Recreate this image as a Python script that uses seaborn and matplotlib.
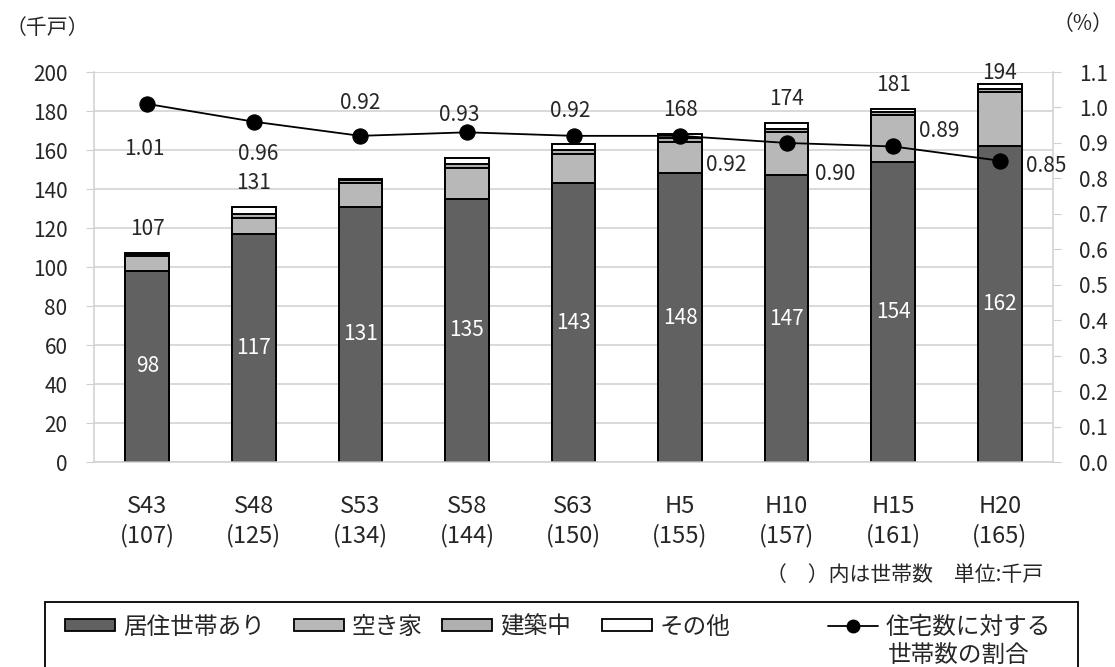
import numpy as np
import matplotlib
matplotlib.use('Agg')
import matplotlib.pyplot as plt
import seaborn as sns
from matplotlib.patches import Patch, Rectangle
from matplotlib.lines import Line2D

# ------------------------------------------------------------
# data (千戸)
# ------------------------------------------------------------
years = ['S43', 'S48', 'S53', 'S58', 'S63', 'H5', 'H10', 'H15', 'H20']
households = [107, 125, 134, 144, 150, 155, 157, 161, 165]
occupied = [98, 117, 131, 135, 143, 148, 147, 154, 162]
vacant = [7.5, 8, 12, 16, 15, 16, 22, 24, 28]
building = [1, 2, 1.5, 2, 2, 2, 2, 1.5, 1.5]
other = [0.5, 4, 0.5, 3, 3, 2, 3, 1.5, 2.5]
ratio = [1.01, 0.96, 0.92, 0.93, 0.92, 0.92, 0.90, 0.89, 0.85]
show_total = [True, True, False, False, False, True, True, True, True]

tick_labels = [f'{y}\n({h})' for y, h in zip(years, households)]

c_occ = '#616161'
c_vac = '#b8b8b8'
c_bld = '#b0b0b0'
c_oth = '#ffffff'
grid_c = '#d0d0d0'

sns.set_style('white')
plt.rcParams['font.family'] = ['Noto Sans CJK JP', 'DejaVu Sans']

fig = plt.figure(figsize=(11.15, 6.67), dpi=100)
ax = fig.add_axes([0.0843, 0.3073, 0.8601, 0.5847])

# stacked bars drawn as overlapping cumulative bars
l1 = np.array(occupied)
l2 = l1 + np.array(vacant)
l3 = l2 + np.array(building)
l4 = l3 + np.array(other)
for vals, col in [(l4, c_oth), (l3, c_bld), (l2, c_vac), (l1, c_occ)]:
    sns.barplot(x=tick_labels, y=vals, color=col, saturation=1, width=0.41,
                edgecolor='black', linewidth=1.4, ax=ax)

ax.set_ylim(0, 200)
ax.set_yticks(np.arange(0, 201, 20))
ax.set_xlim(-0.5, len(years) - 0.5)
ax.set_axisbelow(True)
ax.yaxis.grid(True, color=grid_c, linewidth=1.1)
ax.set_xlabel('')
ax.set_ylabel('')
for s in ['top', 'right']:
    ax.spines[s].set_visible(False)
for s in ['left', 'bottom']:
    ax.spines[s].set_color(grid_c)
    ax.spines[s].set_linewidth(1.1)
ax.tick_params(axis='y', labelsize=15, length=6, color=grid_c, pad=13)
ax.tick_params(axis='x', which='major', labelsize=17, length=0, pad=24)
ax.set_xticks(np.arange(-0.5, len(years)), minor=True)
ax.tick_params(axis='x', which='minor', length=6, color=grid_c, width=1.1)
for t in ax.get_xticklabels():
    t.set_linespacing(1.3)

# labels on bars
for i in range(len(years)):
    ax.text(i, occupied[i] / 2, f'{occupied[i]}', ha='center', va='center',
            color='white', fontsize=15)
    if show_total[i]:
        dy = 11 if i == len(years) - 1 else 24
        ax.annotate(f'{round(l4[i])}', (i, l4[i]), xytext=(0, dy),
                    textcoords='offset pixels', ha='center', va='center',
                    fontsize=15)

# ratio line
ax2 = ax.twinx()
sns.lineplot(x=np.arange(len(years)), y=ratio, color='black', linewidth=1.3,
             marker='o', markersize=11, markeredgecolor='black', ax=ax2)
ax2.set_ylim(0, 1.1)
ax2.set_yticks(np.arange(0, 1.101, 0.1))
ax2.set_yticklabels([f'{v:.1f}' for v in np.arange(0, 1.101, 0.1)])
ax2.set_xlim(-0.5, len(years) - 0.5)
for s in ['top', 'left', 'bottom']:
    ax2.spines[s].set_visible(False)
ax2.spines['right'].set_color(grid_c)
ax2.spines['right'].set_linewidth(1.1)
ax2.tick_params(axis='y', labelsize=15, length=6, color=grid_c, pad=13)

offsets = [(-3, -45), (4, -32), (0, 33), (-8, 17), (-3, 25),
           (46, -29), (49, -31), (46, 15), (46, -5)]
for i, r in enumerate(ratio):
    ax2.annotate(f'{r:.2f}', (i, r), xytext=offsets[i],
                 textcoords='offset pixels', ha='center', va='center',
                 fontsize=15)

fig.text(6 / 1115, 1 - 28 / 667, '（千戸）', fontsize=15, va='center')
fig.text(1053 / 1115, 1 - 24 / 667, '（%）', fontsize=15, va='center')
fig.text(1043 / 1115, 1 - 575 / 667, '（　）内は世帯数　単位:千戸', fontsize=15,
         ha='right', va='center')

# legend: frame drawn by hand, one legend per entry for Excel-like spacing
fig.patches.append(Rectangle((45 / 1115, -0.1), (1078 - 45) / 1115,
                             1 - 602 / 667 + 0.1, transform=fig.transFigure,
                             fill=False, edgecolor='black', linewidth=1.3))
handles = [Patch(facecolor=c_occ, edgecolor='black', linewidth=1.3),
           Patch(facecolor=c_vac, edgecolor='black', linewidth=1.3),
           Patch(facecolor=c_bld, edgecolor='black', linewidth=1.3),
           Patch(facecolor=c_oth, edgecolor='black', linewidth=1.3),
           Line2D([], [], color='black', linewidth=1.3, marker='o', markersize=9)]
labels = ['居住世帯あり', '空き家', '建築中', 'その他', '住宅数に対する']
leg_x = [65, 294, 442, 602, 828]
for h, lab, x in zip(handles, labels, leg_x):
    fig.legend([h], [lab], loc='center left',
               bbox_to_anchor=(x / 1115, 1 - 627 / 667), frameon=False,
               fontsize=17, borderpad=0, borderaxespad=0,
               handlelength=2.1, handleheight=0.45, handletextpad=0.35)
fig.text(888 / 1115, 1 - 655 / 667, '世帯数の割合', fontsize=17, va='center')

fig.savefig('out.png', dpi=100)
